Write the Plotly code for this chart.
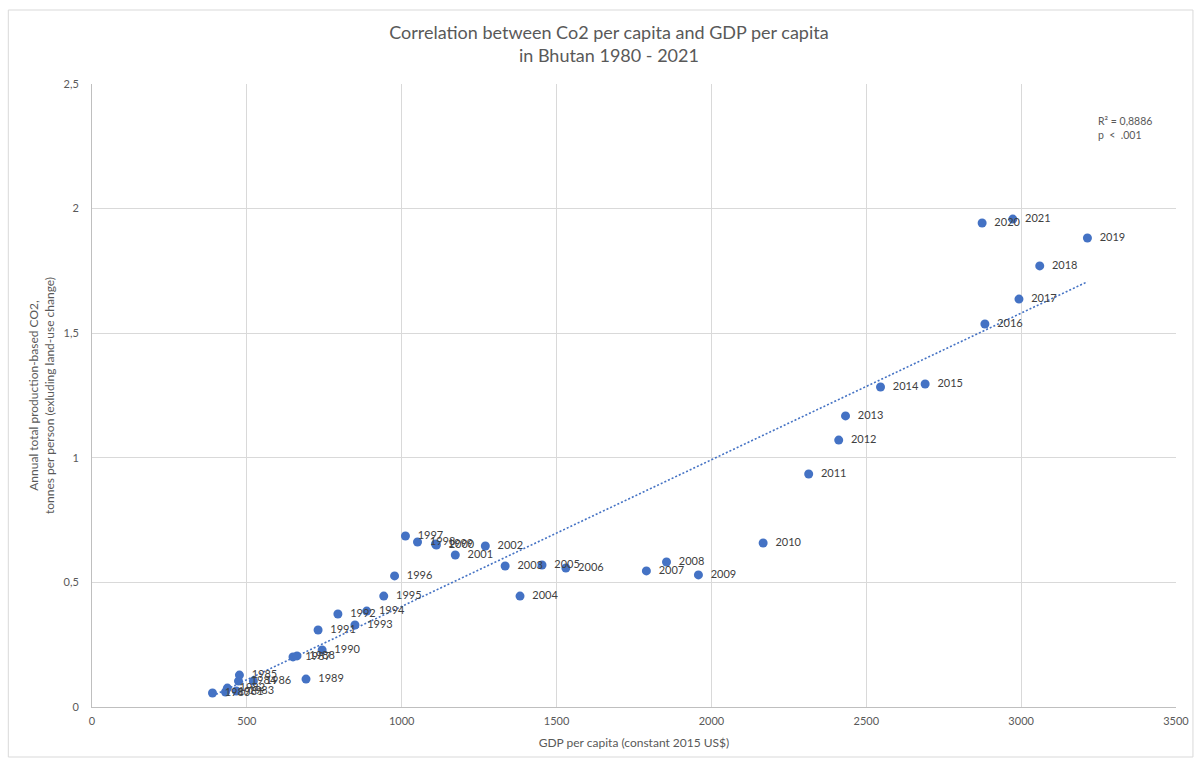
import numpy as np
import plotly.graph_objects as go

# Bhutan, 1980-2021
years = list(range(1980, 2022))
gdp_per_capita = [
    389, 431, 437, 466, 473, 476, 521, 649, 662, 691,
    743, 730, 794, 849, 887, 942, 977, 1012, 1051, 1109,
    1112, 1173, 1270, 1334, 1382, 1453, 1530, 1790, 1855, 1958,
    2167, 2314, 2411, 2433, 2546, 2690, 2883, 2993, 3060, 3214,
    2874, 2973,
]
co2_per_capita = [
    0.056, 0.060, 0.076, 0.064, 0.104, 0.128, 0.104, 0.201, 0.205, 0.112,
    0.229, 0.309, 0.373, 0.329, 0.385, 0.445, 0.526, 0.686, 0.662, 0.654,
    0.650, 0.610, 0.646, 0.566, 0.445, 0.570, 0.558, 0.546, 0.582, 0.530,
    0.658, 0.935, 1.071, 1.168, 1.284, 1.296, 1.537, 1.637, 1.770, 1.882,
    1.942, 1.958,
]
x_ticks = [0, 500, 1000, 1500, 2000, 2500, 3000, 3500]
y_ticks = [0, 0.5, 1, 1.5, 2, 2.5]
r_squared_text = "R² = 0,8886"
p_value_text = "p  <  .001"

BLUE = "#4472C4"
FONT = "Lato, 'Open Sans', sans-serif"

# Linear trendline over the data range
x = np.array(gdp_per_capita, dtype=float)
y = np.array(co2_per_capita, dtype=float)
slope, intercept = np.polyfit(x, y, 1)
trend_x = [x.min(), x.max()]
trend_y = [slope * v + intercept for v in trend_x]

fig = go.Figure()
fig.add_trace(go.Scatter(
    x=trend_x, y=trend_y, mode="lines",
    line=dict(color=BLUE, width=1.6, dash="2px,2px"),
    hoverinfo="skip", showlegend=False,
))
fig.add_trace(go.Scatter(
    x=gdp_per_capita, y=co2_per_capita, mode="markers+text",
    text=["\u00a0\u00a0" + str(v) for v in years], textposition="middle right",
    textfont=dict(family=FONT, size=11, color="#404040"),
    marker=dict(color=BLUE, size=9),
    showlegend=False,
))

axis_common = dict(
    showgrid=True, gridcolor="#d9d9d9", gridwidth=1,
    zeroline=False, showline=True, linecolor="#bfbfbf", linewidth=1,
    tickfont=dict(family=FONT, size=11, color="#595959"),
    ticks="", mirror=False,
)

fig.update_layout(
    width=1201, height=760,
    margin=dict(l=92, r=21, t=84, b=53),
    paper_bgcolor="white", plot_bgcolor="white",
    separators=", ",
    font=dict(family=FONT, color="#595959"),
    title=dict(
        text="Correlation between Co2 per capita and GDP per capita<br>in Bhutan 1980 - 2021",
        x=0.507, xanchor="center", y=0.949, yanchor="top",
        font=dict(family=FONT, size=18, color="#595959"),
    ),
    xaxis=dict(
        range=[0, 3500], tickvals=x_ticks, ticklabelstandoff=4,
        title=dict(text="GDP per capita (constant 2015 US$)", standoff=12,
                   font=dict(family=FONT, size=12, color="#595959")),
        **axis_common,
    ),
    yaxis=dict(
        range=[0, 2.5], tickvals=y_ticks, ticklabelstandoff=10,
        tickformat=".1~f",
        title=dict(text="Annual total production-based CO2,<br>tonnes per person (exluding land-use change)",
                   standoff=6,
                   font=dict(family=FONT, size=12, color="#595959")),
        **axis_common,
    ),
    annotations=[
        dict(text=r_squared_text + "<br>" + p_value_text, xref="paper", yref="paper",
             x=(1100 - 92) / 1088, y=(707 - 113) / 623, xanchor="left", yanchor="top",
             align="left", showarrow=False,
             font=dict(family=FONT, size=10.5, color="#595959")),
    ],
    shapes=[
        dict(type="rect", xref="paper", yref="paper",
             x0=(8 - 92) / 1088, x1=(1197 - 92) / 1088,
             y0=(707 - 757) / 623, y1=(707 - 10) / 623,
             line=dict(color="#d9d9d9", width=1), layer="below"),
    ],
)

fig.write_html("out.html")
